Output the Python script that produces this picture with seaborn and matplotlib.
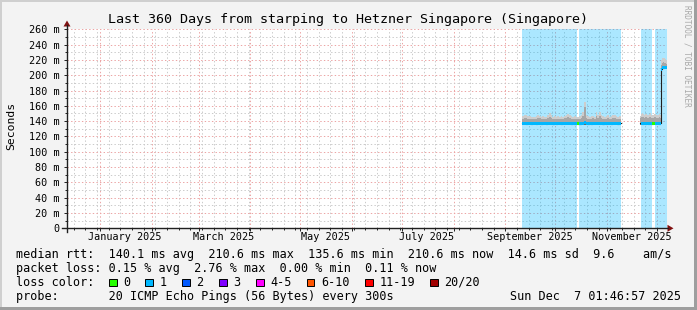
import numpy as np
import pandas as pd
import matplotlib
matplotlib.use("Agg")
import matplotlib.pyplot as plt
import matplotlib.dates as mdates
import matplotlib.transforms as mtrans
from matplotlib.ticker import MultipleLocator, NullFormatter, FixedLocator
from matplotlib.patches import Rectangle, Polygon
from matplotlib.lines import Line2D
import seaborn as sns

# ---------------- data ----------------
title = "Last 360 Days from starping to Hetzner Singapore (Singapore)"
window_start = "2024-12-12 01:46:57"
window_end = "2025-12-07 01:46:57"

# segment 1: daily consolidated values
seg1_start = "2025-09-11 06:00"
seg1_median = [137.4, 137.0, 136.9, 137.1, 137.0, 136.8, 137.0, 137.1, 136.9, 137.2,
               137.0, 136.9, 137.0, 137.1, 136.8, 137.2, 137.3, 137.0, 136.9, 137.0,
               136.8, 137.2, 137.0, 136.9, 137.0, 137.1, 137.0, 137.3, 137.1, 136.9,
               137.0, 136.9, 137.0, 136.7, 136.9, 137.1, 137.4, 137.8, 137.0, 136.9,
               137.0, 136.8, 137.0, 137.1, 137.3, 137.0, 137.2, 137.0, 136.9, 137.0,
               136.8, 137.0, 137.1, 136.9, 137.0, 137.2, 137.0, 136.9, 137.0]
seg1_low = [135.2, 135.5, 135.6, 135.4, 135.2, 135.6, 135.6, 135.5, 135.6, 135.6,
            135.6, 135.6, 135.6, 135.5, 135.2, 135.6, 135.6, 135.6, 135.6, 135.6,
            135.5, 135.3, 135.6, 135.6, 135.6, 135.6, 135.6, 135.6, 135.5, 135.6,
            135.6, 135.6, 135.6, 135.5, 135.6, 135.6, 135.6, 135.6, 135.6, 135.6,
            135.6, 135.6, 135.6, 135.6, 135.6, 135.6, 135.2, 135.5, 135.6, 135.6,
            135.6, 135.6, 135.6, 135.6, 135.6, 135.6, 135.6, 135.6, 135.6]
seg1_mid = [143.0, 143.5, 143.5, 143.0, 143.0, 142.5, 142.5, 143.0, 143.0, 144.0,
            143.5, 142.5, 143.0, 142.5, 143.0, 144.0, 145.5, 143.5, 143.0, 143.0,
            142.5, 143.0, 143.0, 143.0, 143.0, 143.5, 144.0, 145.0, 144.0, 143.0,
            143.0, 143.0, 142.5, 142.5, 143.0, 143.5, 147.0, 158.0, 143.5, 143.0,
            142.5, 143.0, 143.5, 143.0, 147.0, 143.5, 146.5, 144.0, 143.0, 142.5,
            143.0, 143.5, 143.0, 143.0, 143.5, 144.0, 143.0, 142.5, 143.0]
seg1_top = [146.5, 147.5, 147.5, 147.0, 146.5, 146.0, 145.5, 146.0, 146.5, 148.0,
            147.0, 146.0, 146.5, 145.5, 146.0, 148.0, 150.0, 147.5, 146.0, 146.5,
            145.5, 146.5, 146.0, 146.5, 146.0, 147.0, 148.0, 149.5, 148.0, 146.5,
            146.0, 146.5, 146.0, 145.5, 146.5, 147.5, 152.0, 165.0, 147.5, 146.5,
            146.0, 146.5, 147.0, 146.0, 152.0, 147.5, 151.5, 148.0, 146.5, 146.0,
            146.5, 147.5, 146.0, 146.5, 147.5, 148.0, 146.5, 146.0, 146.5]
seg1_loss = [1, 1, 1, 1, 1, 1, 1, 1, 1, 1,
             1, 1, 1, 1, 1, 1, 1, 1, 1, 1,
             1, 1, 1, 1, 1, 1, 1, 1, 1, 1,
             1, 1, 1, 0, 1, 1, 1, 1, 1, 1,
             1, 1, 1, 1, 1, 1, 1, 1, 1, 1,
             1, 1, 1, 1, 1, 1, 1, 1, 1]

# segment 2: 12-hour consolidated values
seg2_start = "2025-11-20 18:00"
seg2_median = [137.5, 137.0, 137.0, 136.9, 137.1, 137.0, 136.8, 137.0, 137.2, 137.0,
               136.9, 137.0, 137.1, 137.0, 136.9, 136.8, 137.0, 137.1, 137.0, 136.9,
               137.0, 137.2, 137.0, 136.9, 137.4, 181.0, 208.0, 209.5, 210.0, 210.2,
               210.4, 210.6, 210.6]
seg2_low = [135.2, 135.6, 135.6, 135.5, 135.6, 135.6, 135.6, 135.6, 135.6, 135.6,
            135.6, 135.6, 135.6, 135.6, 135.6, 135.6, 135.6, 135.6, 135.6, 135.6,
            135.6, 135.6, 135.6, 135.6, 135.4, 178.0, 206.0, 207.5, 208.0, 208.2,
            208.4, 208.6, 208.6]
seg2_mid = [143.5, 144.5, 145.0, 145.5, 145.0, 144.5, 145.0, 145.5, 145.0, 144.5,
            144.5, 145.0, 145.5, 145.0, 144.5, 144.0, 144.5, 145.0, 145.0, 145.0,
            144.5, 144.0, 144.5, 145.0, 144.0, 183.0, 214.0, 216.0, 217.0, 216.5,
            216.0, 215.0, 214.5]
seg2_top = [147.0, 148.5, 149.5, 150.0, 149.0, 148.5, 149.5, 150.0, 149.0, 148.0,
            148.5, 149.5, 150.0, 149.0, 148.5, 148.0, 148.5, 149.0, 149.5, 149.0,
            148.5, 148.0, 148.5, 149.0, 148.0, 186.0, 220.0, 222.0, 223.0, 222.5,
            221.5, 220.0, 219.5]
seg2_loss = [-1, 1, 1, 1, 1, 1, 1, 1, 1, 1,
             1, 1, 1, 1, 1, 0, 0, 0, 1, 1,
             1, 1, 1, 1, 1, 1, 1, 1, 1, 1,
             1, 1, 1]

y_ticks = [0, 20, 40, 60, 80, 100, 120, 140, 160, 180, 200, 220, 240, 260]
y_tick_labels = ["0", "20 m", "40 m", "60 m", "80 m", "100 m", "120 m", "140 m",
                 "160 m", "180 m", "200 m", "220 m", "240 m", "260 m"]
month_label_dates = ["2025-01-16", "2025-03-16", "2025-05-16", "2025-07-16",
                     "2025-09-16", "2025-11-16"]
month_labels = ["January 2025", "March 2025", "May 2025", "July 2025",
                "September 2025", "November 2025"]

loss_labels = ["0", "1", "2", "3", "4-5", "6-10", "11-19", "20/20"]
loss_colors = ["#26ff00", "#00b8ff", "#0059ff", "#7e00ff", "#ff00ff",
               "#ff5500", "#ff0000", "#a10000"]

stat_line1 = "median rtt:  140.1 ms avg  210.6 ms max  135.6 ms min  210.6 ms now  14.6 ms sd  9.6    am/s"
stat_line2 = "packet loss: 0.15 % avg  2.76 % max  0.00 % min  0.11 % now"
stat_line3 = "loss color:"
stat_line4 = "probe:       20 ICMP Echo Pings (56 Bytes) every 300s"
timestamp = "Sun Dec  7 01:46:57 2025"
watermark = "RRDTOOL / TOBI OETIKER"

# ---------------- figure ----------------
W, H = 697, 310
MONO = "DejaVu Sans Mono"
plt.rcParams["font.family"] = [MONO]
plt.rcParams["lines.scale_dashes"] = False

fig = plt.figure(figsize=(W / 100, H / 100), dpi=100)
fig.patch.set_facecolor("#f3f3f3")

def fx(x):
    return x / W

def fy(y):
    return 1 - y / H

L, R, T, B = 67, 667, 29.3, 228.3
ax = fig.add_axes([fx(L), fy(B), (R - L) / W, (B - T) / H])
ax.set_facecolor("white")

sw = 1.9  # half width of median band

frames = []
for name, start, freq, med, low, mid, top, loss in [
        ("s1", seg1_start, "D", seg1_median, seg1_low, seg1_mid, seg1_top, seg1_loss),
        ("s2", seg2_start, "12h", seg2_median, seg2_low, seg2_mid, seg2_top, seg2_loss)]:
    t = pd.date_range(start, periods=len(med) + 1, freq=freq)
    tn = mdates.date2num(t)
    med_a = np.append(med, med[-1])
    low_a = np.append(low, low[-1])
    mid_a = np.append(mid, mid[-1])
    top_a = np.append(top, top[-1])
    # loss background shading
    for i, l in enumerate(loss):
        if l > 0:
            ax.axvspan(tn[i], tn[i + 1], color=loss_colors[min(l, 7)], alpha=0.33,
                       lw=0, zorder=1)
    # smoke
    ax.fill_between(tn, med_a, top_a, step="post", color="#cdcdcd", lw=0, zorder=2)
    ax.fill_between(tn, med_a, mid_a, step="post", color="#a6a6a6", lw=0, zorder=2.1)
    ax.fill_between(tn, low_a, med_a, step="post", color="#6e6e6e", lw=0, zorder=2.2)
    frames.append(pd.DataFrame({"time": t, "median": med_a, "segment": name}))
    # loss-colored median band
    cols = [loss_colors[l] if l >= 0 else (0, 0, 0, 0) for l in loss]
    ax.bar(tn[:-1], 2 * sw, bottom=np.array(med) - sw, width=np.diff(tn), align="edge",
           color=cols, lw=0, zorder=3)

df = pd.concat(frames, ignore_index=True)
df["time"] = mdates.date2num(df["time"])
sns.lineplot(data=df, x="time", y="median", units="segment", estimator=None,
             drawstyle="steps-post", color="#202020", lw=0.8, ax=ax, zorder=2.9)

# axes limits / grid
ax.set_xlim(mdates.date2num(pd.Timestamp(window_start)),
            mdates.date2num(pd.Timestamp(window_end)))
ax.set_ylim(0, 260)
ax.xaxis.set_major_locator(mdates.MonthLocator())
ax.xaxis.set_minor_locator(mdates.WeekdayLocator(byweekday=mdates.MO))
ax.xaxis.set_major_formatter(NullFormatter())
ax.xaxis.set_minor_formatter(NullFormatter())
ax.yaxis.set_major_locator(FixedLocator(y_ticks))
ax.set_yticklabels(y_tick_labels)
ax.yaxis.set_minor_locator(MultipleLocator(10))
ax.set_xlabel("")
ax.set_ylabel("")
ax.set_axisbelow(True)
ax.grid(which="minor", color="#cacaca", lw=0.7, ls=(0, (1, 1.6)))
ax.grid(which="major", color="#eca3a3", lw=0.7, ls=(0, (1, 1.6)))
ax.tick_params(axis="both", which="both", direction="out", color="#202020", width=0.7)
ax.tick_params(axis="both", which="major", length=2.5)
ax.tick_params(axis="both", which="minor", length=1.5)
ax.tick_params(axis="y", which="major", labelsize=7.3, pad=3.0)
for s in ax.spines.values():
    s.set_visible(False)

lab_tr = mtrans.blended_transform_factory(ax.transData, fig.transFigure)
for d, lab in zip(month_label_dates, month_labels):
    ax.text(mdates.date2num(pd.Timestamp(d)), fy(237), lab, fontsize=7.3,
            ha="center", va="center", transform=lab_tr)

# axis lines and arrows
fig.add_artist(Line2D([fx(62), fx(668)], [fy(B), fy(B)], color="#202020", lw=1.0,
                      transform=fig.transFigure))
fig.add_artist(Line2D([fx(L), fx(L)], [fy(231.5), fy(25)], color="#202020", lw=1.0,
                      transform=fig.transFigure))
fig.add_artist(Polygon([[fx(63.5), fy(26.5)], [fx(70.5), fy(26.5)], [fx(67), fy(20.5)]],
                       closed=True, color="#801010", lw=0, transform=fig.transFigure))
fig.add_artist(Polygon([[fx(667.5), fy(224.8)], [fx(667.5), fy(231.8)], [fx(673.5), fy(B)]],
                       closed=True, color="#801010", lw=0, transform=fig.transFigure))

# titles and labels
fig.text(fx(348.5), fy(19.5), title, ha="center", va="center", fontsize=9.6)
fig.text(fx(11), fy(126), "Seconds", rotation=90, ha="center", va="center", fontsize=8.2)
fig.text(fx(686.5), fy(5), watermark, rotation=270, ha="center", va="top",
         fontsize=5.6, color="#a8a8a8")

# stats legend
FS = 8.5
fig.text(fx(16), fy(254.3), stat_line1, ha="left", va="center", fontsize=FS)
fig.text(fx(16), fy(268.7), stat_line2, ha="left", va="center", fontsize=FS)
fig.text(fx(16), fy(282.3), stat_line3, ha="left", va="center", fontsize=FS)
fig.text(fx(16), fy(296.3), stat_line4, ha="left", va="center", fontsize=FS)
fig.text(fx(681), fy(296.3), timestamp, ha="right", va="center", fontsize=FS)

box_x = [109, 145.3, 182.2, 219.1, 256.4, 306.7, 365.3, 430.2]
for bx, col, lab in zip(box_x, loss_colors, loss_labels):
    fig.add_artist(Rectangle((fx(bx), fy(286.2)), 7.6 / W, 7.6 / H, facecolor=col,
                             edgecolor="black", lw=0.7, transform=fig.transFigure))
    fig.text(fx(bx + 14.2), fy(282.3), lab, ha="left", va="center", fontsize=FS)

# frame shading
fig.add_artist(Rectangle((0, fy(2)), 1, 2 / H, color="#cfcfcf", lw=0, transform=fig.transFigure))
fig.add_artist(Rectangle((0, 0), 2 / W, 1, color="#cfcfcf", lw=0, transform=fig.transFigure))
fig.add_artist(Rectangle((fx(694), 0), 3 / W, 1, color="#9e9e9e", lw=0, transform=fig.transFigure))
fig.add_artist(Rectangle((0, 0), 1, 3 / H, color="#9e9e9e", lw=0, transform=fig.transFigure))

fig.savefig("out.png", dpi=100, facecolor=fig.get_facecolor())
